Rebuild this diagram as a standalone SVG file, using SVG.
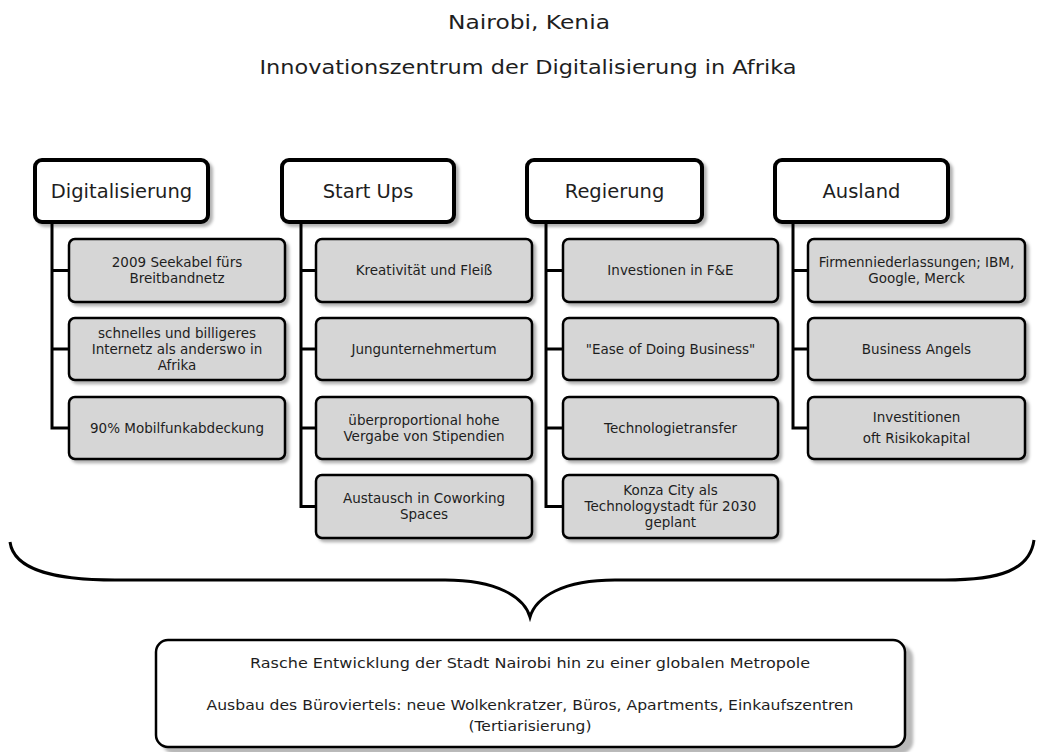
<svg xmlns="http://www.w3.org/2000/svg" width="1039" height="752" viewBox="0 0 1039 752">
<defs>
<filter id="sh" x="-10%" y="-10%" width="130%" height="140%"><feDropShadow dx="3" dy="3" stdDeviation="1.5" flood-color="#000" flood-opacity="0.3"/></filter>
<filter id="sh2" x="-5%" y="-10%" width="115%" height="130%"><feDropShadow dx="7" dy="6" stdDeviation="1.5" flood-color="#000" flood-opacity="0.28"/></filter>
<style>
text{font-family:"DejaVu Sans","Liberation Sans",sans-serif;fill:#1e1e1e;text-anchor:middle}
.t{font-size:19px}
.h rect{fill:#fff;stroke:#000;stroke-width:4}
.h text{font-size:19.5px}
.c rect{fill:#d6d6d6;stroke:#000;stroke-width:2.5}
.c text{font-size:13.5px}
.b rect{fill:#fff;stroke:#000;stroke-width:2.5}
.b text{font-size:13.5px}
.con path{fill:none;stroke:#000;stroke-width:3}
</style>
</defs>
<text class="t" x="529" y="29" textLength="162" lengthAdjust="spacingAndGlyphs">Nairobi, Kenia</text>
<text class="t" x="528" y="74" textLength="537" lengthAdjust="spacingAndGlyphs">Innovationszentrum der Digitalisierung in Afrika</text>

<g id="connectors" class="con">
<path d="M52,222 V428 H69 M52,270.5 H69 M52,349 H69"/>
<path d="M301,222 V506.5 H316 M301,270.5 H316 M301,349 H316 M301,428 H316"/>
<path d="M546,222 V506.5 H563 M546,270.5 H563 M546,349 H563 M546,428 H563"/>
<path d="M793,222 V428 H808 M793,270.5 H808 M793,349 H808"/>
<path d="M10,542 C14,572 60,580 115,580 L445,580 C497,580 524,597 530,617 C536,597 563,580 615,580 L945,580 C1000,580 1030,570 1034,540"/>
</g>

<g id="h-digital" class="h"><rect x="35" y="160" width="173" height="62" rx="7" filter="url(#sh)"/><text x="121.5" y="198">Digitalisierung</text></g>
<g id="h-startups" class="h"><rect x="282" y="160" width="172" height="62" rx="7" filter="url(#sh)"/><text x="368" y="198">Start Ups</text></g>
<g id="h-regierung" class="h"><rect x="527" y="160" width="175" height="62" rx="7" filter="url(#sh)"/><text x="614.5" y="198">Regierung</text></g>
<g id="h-ausland" class="h"><rect x="775" y="160" width="173" height="62" rx="7" filter="url(#sh)"/><text x="861.5" y="198">Ausland</text></g>

<g id="d1" class="c"><rect x="69" y="239" width="216" height="63" rx="6" filter="url(#sh)"/><text x="177" y="267">2009 Seekabel fürs</text><text x="177" y="283">Breitbandnetz</text></g>
<g id="d2" class="c"><rect x="69" y="318" width="216" height="62" rx="6" filter="url(#sh)"/><text x="177" y="338">schnelles und billigeres</text><text x="177" y="354">Internetz als anderswo in</text><text x="177" y="370">Afrika</text></g>
<g id="d3" class="c"><rect x="69" y="397" width="216" height="62" rx="6" filter="url(#sh)"/><text x="177" y="433">90% Mobilfunkabdeckung</text></g>

<g id="s1" class="c"><rect x="316" y="239" width="216" height="63" rx="6" filter="url(#sh)"/><text x="424" y="275">Kreativität und Fleiß</text></g>
<g id="s2" class="c"><rect x="316" y="318" width="216" height="62" rx="6" filter="url(#sh)"/><text x="424" y="354">Jungunternehmertum</text></g>
<g id="s3" class="c"><rect x="316" y="397" width="216" height="62" rx="6" filter="url(#sh)"/><text x="424" y="425">überproportional hohe</text><text x="424" y="441">Vergabe von Stipendien</text></g>
<g id="s4" class="c"><rect x="316" y="475" width="216" height="63" rx="6" filter="url(#sh)"/><text x="424" y="503">Austausch in Coworking</text><text x="424" y="519">Spaces</text></g>

<g id="r1" class="c"><rect x="563" y="239" width="215" height="63" rx="6" filter="url(#sh)"/><text x="670.5" y="275">Investionen in F&amp;E</text></g>
<g id="r2" class="c"><rect x="563" y="318" width="215" height="62" rx="6" filter="url(#sh)"/><text x="670.5" y="354">"Ease of Doing Business"</text></g>
<g id="r3" class="c"><rect x="563" y="397" width="215" height="62" rx="6" filter="url(#sh)"/><text x="670.5" y="433">Technologietransfer</text></g>
<g id="r4" class="c"><rect x="563" y="475" width="215" height="63" rx="6" filter="url(#sh)"/><text x="670.5" y="495">Konza City als</text><text x="670.5" y="511">Technologystadt für 2030</text><text x="670.5" y="527">geplant</text></g>

<g id="a1" class="c"><rect x="808" y="239" width="217" height="63" rx="6" filter="url(#sh)"/><text x="916.5" y="267">Firmenniederlassungen; IBM,</text><text x="916.5" y="283">Google, Merck</text></g>
<g id="a2" class="c"><rect x="808" y="318" width="217" height="62" rx="6" filter="url(#sh)"/><text x="916.5" y="354">Business Angels</text></g>
<g id="a3" class="c"><rect x="808" y="397" width="217" height="62" rx="6" filter="url(#sh)"/><text x="916.5" y="422">Investitionen</text><text x="916.5" y="443">oft Risikokapital</text></g>

<g id="result" class="b"><rect x="156" y="640" width="749" height="107" rx="12" filter="url(#sh2)"/>
<text x="530" y="668" textLength="560" lengthAdjust="spacingAndGlyphs">Rasche Entwicklung der Stadt Nairobi hin zu einer globalen Metropole</text>
<text x="530" y="710" textLength="647" lengthAdjust="spacingAndGlyphs">Ausbau des Büroviertels: neue Wolkenkratzer, Büros, Apartments, Einkaufszentren</text>
<text x="530" y="731" textLength="123" lengthAdjust="spacingAndGlyphs">(Tertiarisierung)</text>
</g>
</svg>
